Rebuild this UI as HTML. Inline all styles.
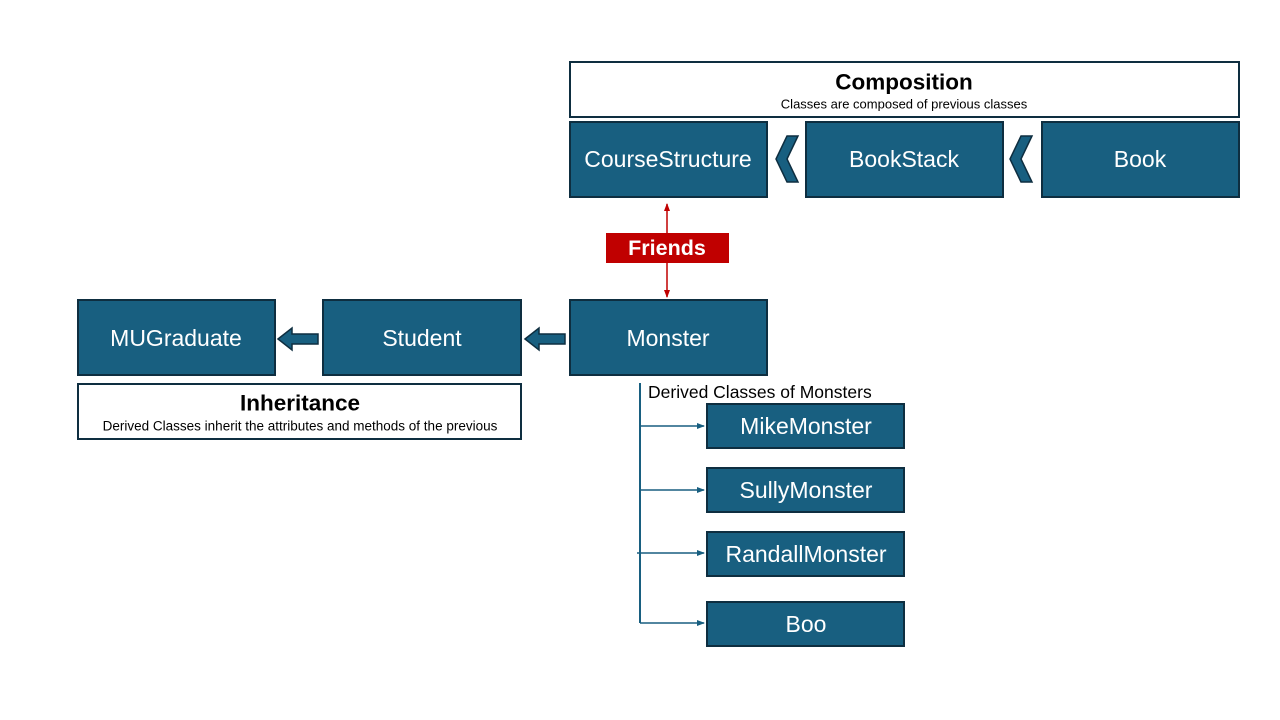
<!DOCTYPE html>
<html><head><meta charset="utf-8"><style>
html,body{margin:0;padding:0;background:#fff;}
svg{display:block;font-family:"Liberation Sans",sans-serif;}
.b{fill:#185f80;stroke:#0e2e40;stroke-width:2;}
.t{fill:#fff;font-size:23px;text-anchor:middle;dominant-baseline:central;}
.s{fill:#185f80;stroke:#0e2e40;stroke-width:1.5;}
</style></head><body>
<svg width="1280" height="720" viewBox="0 0 1280 720">
<defs>
<marker id="ar" markerWidth="8" markerHeight="8" refX="7" refY="4" orient="auto" markerUnits="userSpaceOnUse"><path d="M0,1 L8,4 L0,7 z" fill="#185f80"/></marker>
<marker id="rr" markerWidth="8" markerHeight="8" refX="7" refY="4" orient="auto" markerUnits="userSpaceOnUse"><path d="M0,1 L8,4 L0,7 z" fill="#c00000"/></marker>
</defs>
<rect x="570" y="62" width="669" height="55" fill="#fff" stroke="#0e2e40" stroke-width="2"/>
<text x="904" y="82" font-size="22.5" font-weight="bold" text-anchor="middle" dominant-baseline="central" fill="#000">Composition</text>
<text x="904" y="104" font-size="13" text-anchor="middle" dominant-baseline="central" fill="#000">Classes are composed of previous classes</text>
<rect class="b" x="570" y="122" width="197" height="75"/><text class="t" x="668" y="159">CourseStructure</text>
<rect class="b" x="806" y="122" width="197" height="75"/><text class="t" x="904" y="159">BookStack</text>
<rect class="b" x="1042" y="122" width="197" height="75"/><text class="t" x="1140" y="159">Book</text>
<polygon class="s" points="787,136 798,136 787,159 798,182 787,182 776,159"/>
<polygon class="s" points="1021,136 1032,136 1021,159 1032,182 1021,182 1010,159"/>
<line x1="667" y1="233" x2="667" y2="204" stroke="#c00000" stroke-width="1.5" marker-end="url(#rr)"/>
<line x1="667" y1="263" x2="667" y2="297" stroke="#c00000" stroke-width="1.5" marker-end="url(#rr)"/>
<rect x="606" y="233" width="123" height="30" fill="#c00000"/>
<text x="667" y="248" font-size="21.5" font-weight="bold" fill="#fff" text-anchor="middle" dominant-baseline="central">Friends</text>
<rect class="b" x="78" y="300" width="197" height="75"/><text class="t" x="176" y="338">MUGraduate</text>
<rect class="b" x="323" y="300" width="198" height="75"/><text class="t" x="422" y="338">Student</text>
<rect class="b" x="570" y="300" width="197" height="75"/><text class="t" x="668" y="338">Monster</text>
<polygon class="s" points="278,339 292,328 292,334 318,334 318,344 292,344 292,350"/>
<polygon class="s" points="525,339 539,328 539,334 565,334 565,344 539,344 539,350"/>
<rect x="78" y="384" width="443" height="55" fill="#fff" stroke="#0e2e40" stroke-width="2"/>
<text x="300" y="403" font-size="22.5" font-weight="bold" text-anchor="middle" dominant-baseline="central" fill="#000">Inheritance</text>
<text x="300" y="426" font-size="13.5" text-anchor="middle" dominant-baseline="central" fill="#000">Derived Classes inherit the attributes and methods of the previous</text>
<line x1="640" y1="383" x2="640" y2="623" stroke="#185f80" stroke-width="2"/>
<text x="648" y="392" font-size="17.5" fill="#000" dominant-baseline="central">Derived Classes of Monsters</text>
<line x1="640" y1="426" x2="704" y2="426" stroke="#185f80" stroke-width="1.5" marker-end="url(#ar)"/>
<line x1="640" y1="490" x2="704" y2="490" stroke="#185f80" stroke-width="1.5" marker-end="url(#ar)"/>
<line x1="637" y1="553" x2="704" y2="553" stroke="#185f80" stroke-width="1.5" marker-end="url(#ar)"/>
<line x1="640" y1="623" x2="704" y2="623" stroke="#185f80" stroke-width="1.5" marker-end="url(#ar)"/>
<rect class="b" x="707" y="404" width="197" height="44"/><text class="t" x="806" y="426">MikeMonster</text>
<rect class="b" x="707" y="468" width="197" height="44"/><text class="t" x="806" y="490">SullyMonster</text>
<rect class="b" x="707" y="532" width="197" height="44"/><text class="t" x="806" y="554">RandallMonster</text>
<rect class="b" x="707" y="602" width="197" height="44"/><text class="t" x="806" y="624">Boo</text>
</svg>
</body></html>
